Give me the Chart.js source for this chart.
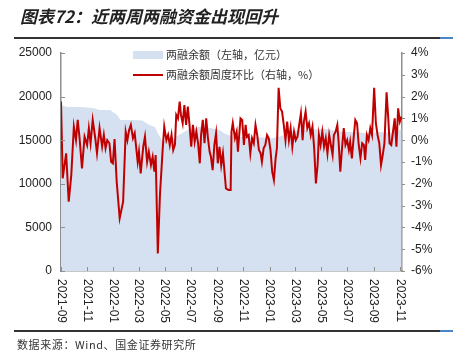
<!DOCTYPE html>
<html>
<head>
<meta charset="utf-8">
<script src="https://cdn.jsdelivr.net/npm/chart.js@4.4.0/dist/chart.umd.min.js"></script>
<style>
  html, body { margin: 0; padding: 0; background: #fff; }
  #wrap { position: relative; width: 453px; height: 363px; overflow: hidden; }
  #chart { position: absolute; left: 0; top: 0; }
  #title { position: absolute; left: 20px; top: 3px; font: italic bold 17px "Noto Sans CJK SC", sans-serif; color: #222; white-space: nowrap; }
  .rule { position: absolute; left: 14px; width: 426px; height: 2px; background: #333; }
  .rule i { position: absolute; left: 426px; top: 0; width: 13px; height: 2px; background: #4a86c5; }
  #source { position: absolute; left: 17px; top: 336px; font: 11px "Noto Sans CJK SC", sans-serif; color: #333; letter-spacing: 0.6px; white-space: nowrap; }
</style>
</head>
<body>
<div id="wrap">
  <canvas id="chart" width="453" height="363"></canvas>
  <div id="title">图表72：近两周两融资金出现回升</div>
  <div class="rule" style="top:37px"><i></i></div>
  <div class="rule" style="top:330px"><i></i></div>
  <div id="source">数据来源：Wind、国金证券研究所</div>
</div>
<script>
// tick labels on the x axis (every two months)
const tickLabels = ['2021-09', '2021-11', '2022-01', '2022-03', '2022-05', '2022-07', '2022-09',
  '2022-11', '2023-01', '2023-03', '2023-05', '2023-07', '2023-09', '2023-11'];

// 两融余额 (left axis, 亿元)
const balanceDates = ['2021-09-01', '2021-09-15', '2021-10-15', '2021-11-15', '2021-12-01', '2021-12-25',
  '2022-01-10', '2022-01-18', '2022-02-15', '2022-03-10', '2022-03-25', '2022-04-08', '2022-04-15',
  '2022-04-25', '2022-05-10', '2022-05-25', '2022-06-10', '2022-06-25', '2022-07-20', '2022-08-15',
  '2022-09-05', '2022-09-20', '2022-10-10', '2022-11-15', '2022-12-15', '2023-01-05', '2023-01-30',
  '2023-02-15', '2023-03-01', '2023-04-01', '2023-05-10', '2023-06-13', '2023-07-18', '2023-08-22',
  '2023-09-14', '2023-10-08', '2023-10-25', '2023-11-05'];
const balanceValues = [19050, 18800, 18800, 18700, 18460, 18460,
  17900, 17320, 17320, 17250, 16770, 16500, 15800,
  15000, 14950, 15300, 15800, 16200, 16500, 16400,
  16200, 15700, 15400, 15400, 15300, 15200, 15500,
  15900, 16100, 16200, 16300, 16000, 15900, 15800,
  15950, 15850, 16000, 16300];

// 两融余额周度环比 (right axis, %)
const ratioDates = [
  '2021-09-01', '2021-09-05', '2021-09-13', '2021-09-19', '2021-09-25', '2021-10-01', '2021-10-06', '2021-10-10',
  '2021-10-14', '2021-10-20', '2021-10-26', '2021-11-01', '2021-11-05', '2021-11-09', '2021-11-14', '2021-11-20',
  '2021-11-24', '2021-11-30', '2021-12-06', '2021-12-10', '2021-12-14', '2021-12-18', '2021-12-23', '2021-12-27',
  '2021-12-31', '2022-01-04', '2022-01-09', '2022-01-16', '2022-01-24', '2022-01-30', '2022-02-03', '2022-02-07',
  '2022-02-11', '2022-02-16', '2022-02-20', '2022-02-27', '2022-03-02', '2022-03-06', '2022-03-12', '2022-03-16',
  '2022-03-21', '2022-03-25', '2022-03-30', '2022-04-03', '2022-04-07', '2022-04-10', '2022-04-13', '2022-04-15',
  '2022-04-20', '2022-04-26', '2022-04-30', '2022-05-05', '2022-05-09', '2022-05-13', '2022-05-17', '2022-05-21',
  '2022-05-25', '2022-05-28', '2022-06-01', '2022-06-05', '2022-06-08', '2022-06-12', '2022-06-16', '2022-06-20',
  '2022-06-24', '2022-06-28', '2022-07-02', '2022-07-06', '2022-07-10', '2022-07-14', '2022-07-18', '2022-07-22',
  '2022-07-25', '2022-07-29', '2022-08-02', '2022-08-06', '2022-08-10', '2022-08-14', '2022-08-17', '2022-08-21',
  '2022-08-25', '2022-08-29', '2022-09-02', '2022-09-06', '2022-09-10', '2022-09-14', '2022-09-18', '2022-09-21',
  '2022-09-27', '2022-10-02', '2022-10-04', '2022-10-07', '2022-10-12', '2022-10-16', '2022-10-19', '2022-10-25',
  '2022-10-29', '2022-11-02', '2022-11-06', '2022-11-09', '2022-11-13', '2022-11-17', '2022-11-21', '2022-11-25',
  '2022-11-29', '2022-12-03', '2022-12-07', '2022-12-11', '2022-12-14', '2022-12-18', '2022-12-22', '2022-12-26',
  '2022-12-30', '2023-01-03', '2023-01-07', '2023-01-11', '2023-01-15', '2023-01-18', '2023-01-22', '2023-01-26',
  '2023-01-30', '2023-02-03', '2023-02-07', '2023-02-11', '2023-02-15', '2023-02-19', '2023-02-23', '2023-02-27',
  '2023-03-03', '2023-03-07', '2023-03-11', '2023-03-15', '2023-03-19', '2023-03-22', '2023-03-26', '2023-03-30',
  '2023-04-03', '2023-04-07', '2023-04-11', '2023-04-15', '2023-04-19', '2023-04-23', '2023-04-26', '2023-04-30',
  '2023-05-04', '2023-05-08', '2023-05-12', '2023-05-16', '2023-05-20', '2023-05-24', '2023-05-28', '2023-05-31',
  '2023-06-04', '2023-06-08', '2023-06-11', '2023-06-15', '2023-06-19', '2023-06-23', '2023-06-27', '2023-07-01',
  '2023-07-05', '2023-07-08', '2023-07-12', '2023-07-16', '2023-07-20', '2023-07-24', '2023-07-28', '2023-08-01',
  '2023-08-05', '2023-08-09', '2023-08-12', '2023-08-16', '2023-08-20', '2023-08-24', '2023-08-28', '2023-09-02',
  '2023-09-06', '2023-09-10', '2023-09-14', '2023-09-18', '2023-09-22', '2023-09-26', '2023-10-01', '2023-10-05',
  '2023-10-08', '2023-10-12', '2023-10-16', '2023-10-20', '2023-10-24', '2023-10-28', '2023-11-01', '2023-11-05'];
const ratioValues = [
  1.77, -1.75, -0.6, -2.82, -1.6, 0.62, 0.0, 0.93,
  0.16, -1.29, 0.16, -0.22, 0.55, -0.14, 0.93, 0.09,
  -0.6, 0.55, -0.3, 0.24, -0.37, 0.0, -0.14, -0.99,
  -1.06, 0.05, -1.9, -3.58, -2.82, 0.39, 0.0, 0.47,
  0.7, 0.09, 0.32, -0.99, -0.53, -1.52, -0.3, 0.16,
  -0.99, -0.53, -1.14, -0.76, -1.44, -0.68, -3.4, -5.2,
  -2.51, -0.53, 0.62, 0.0, 0.24, -0.22, 0.24, -0.45,
  -0.2, 1.16, 1.0, 1.77, 1.16, 0.78, 1.61, 0.7,
  1.54, 0.7, -0.3, 0.7, -0.07, 0.39, -0.14, -1.06,
  0.24, 0.93, -0.14, 1.0, 0.09, -0.53, -0.76, -1.37,
  -0.22, 0.32, -1.06, -0.3, -1.14, -0.6, -1.52, -2.21,
  -2.28, -2.28, 0.39, 0.78, 0.09, 0.39, -0.53, 1.0,
  0.93, -0.22, 0.7, 0.16, 0.24, -0.6, 0.09, -0.14,
  0.7, 0.24, -0.45, -0.6, -0.99, -0.37, -0.22, 0.24,
  0.09, -0.45, -1.44, -1.83, -0.83, -0.37, 2.4, 1.46,
  1.31, 0.7, 0.0, 0.85, 0.0, 0.55, -0.3, 0.39,
  0.0, 0.16, 0.7, 1.23, 0.0, 0.85, 1.31, 0.55,
  0.78, 0.24, 0.62, -0.37, -1.98, -1.14, 0.24, -0.22,
  0.39, -0.3, 0.09, -0.6, 0.24, -0.22, -0.68, 0.24,
  0.39, 0.7, -0.07, -1.44, -0.37, 0.55, -0.22, 0.0,
  -0.45, -0.07, -0.83, 0.09, 0.93, 0.78, -0.22, -0.83,
  -0.14, -0.22, -0.91, 0.24, 0.0, 0.55, 0.24, 2.4,
  0.78, 0.24, -0.14, -1.14, -0.68, -0.14, 2.2, 1.0,
  -0.14, -0.22, 0.39, 1.0, -0.3, 1.46, 0.85, 1.08];

const toX = d => Date.parse(d);
const pairs = (dates, vals) => dates.map((d, i) => ({ x: toX(d), y: vals[i] }));

const axisColor = '#8f8f8f';
const textColor = '#222';
const numFont = { family: '"Liberation Sans", Arial, sans-serif', size: 12 };

// inward tick marks, rotated date labels and the legend inside the plot
const chartDecor = {
  id: 'chartDecor',
  afterDraw(chart) {
    const { ctx, chartArea: a, scales } = chart;
    ctx.save();
    ctx.strokeStyle = axisColor;
    ctx.lineWidth = 1;
    ctx.beginPath();
    scales.y.ticks.forEach(t => {
      const py = Math.round(scales.y.getPixelForValue(t.value)) + 0.5;
      ctx.moveTo(a.left, py); ctx.lineTo(a.left + 4, py);
    });
    scales.y1.ticks.forEach(t => {
      const py = Math.round(scales.y1.getPixelForValue(t.value)) + 0.5;
      ctx.moveTo(a.right, py); ctx.lineTo(a.right + 3, py);
    });
    scales.x.ticks.forEach(t => {
      const px = Math.round(scales.x.getPixelForValue(t.value)) + 0.5;
      ctx.moveTo(px, a.bottom); ctx.lineTo(px, a.bottom - 4);
    });
    ctx.stroke();

    ctx.fillStyle = textColor;
    ctx.font = '12px "Liberation Sans", Arial, sans-serif';
    ctx.textAlign = 'left';
    ctx.textBaseline = 'middle';
    scales.x.ticks.forEach((t, i) => {
      ctx.save();
      ctx.translate(scales.x.getPixelForValue(t.value), a.bottom + 8);
      ctx.rotate(Math.PI / 2);
      ctx.fillText(tickLabels[i], 0, 0);
      ctx.restore();
    });

    // legend
    const ds = chart.data.datasets;
    const lx = 133, lw = 30;
    ctx.font = '11px "Noto Sans CJK SC", sans-serif';
    ctx.fillStyle = ds[1].backgroundColor;
    ctx.fillRect(lx, 51, lw, 8);
    ctx.fillStyle = '#333';
    ctx.fillText(ds[1].label, lx + lw + 3, 55);
    ctx.strokeStyle = ds[0].borderColor;
    ctx.lineWidth = 2;
    ctx.beginPath();
    ctx.moveTo(lx, 75); ctx.lineTo(lx + lw, 75);
    ctx.stroke();
    ctx.fillText(ds[0].label, lx + lw + 3, 75);
    ctx.restore();
  }
};

new Chart(document.getElementById('chart'), {
  type: 'line',
  data: {
    datasets: [
      {
        label: '两融余额周度环比（右轴，%）',
        data: pairs(ratioDates, ratioValues),
        yAxisID: 'y1',
        borderColor: '#c00000',
        borderWidth: 2,
        pointRadius: 0,
        tension: 0,
        fill: false
      },
      {
        label: '两融余额（左轴，亿元）',
        data: pairs(balanceDates, balanceValues),
        yAxisID: 'y',
        borderWidth: 0,
        borderColor: '#d5e1f0',
        backgroundColor: '#d5e1f0',
        pointRadius: 0,
        tension: 0,
        fill: 'origin'
      }
    ]
  },
  options: {
    responsive: false,
    animation: false,
    layout: { padding: { top: 53, left: 0, right: 0, bottom: 0 } },
    plugins: { legend: { display: false }, tooltip: { enabled: false } },
    scales: {
      x: {
        type: 'linear',
        min: toX('2021-09-01'),
        max: toX('2023-11-06'),
        afterBuildTicks: s => { s.ticks = tickLabels.map(l => ({ value: toX(l + '-01') })); },
        afterFit: s => { s.height = 92; },
        ticks: { display: false },
        grid: { display: false, drawTicks: false },
        border: { display: true, color: axisColor, width: 1.5 }
      },
      y: {
        position: 'left',
        min: 0,
        max: 25000,
        ticks: { stepSize: 5000, color: textColor, font: numFont, padding: 9, callback: v => String(v) },
        afterFit: s => { s.width = 61; },
        grid: { display: false, drawTicks: false },
        border: { display: true, color: axisColor, width: 1.5 }
      },
      y1: {
        position: 'right',
        min: -6,
        max: 4,
        ticks: { stepSize: 1, color: textColor, font: numFont, padding: 9, callback: v => v + '%' },
        afterFit: s => { s.width = 51; },
        grid: { display: false, drawTicks: false },
        border: { display: true, color: axisColor, width: 1.5 }
      }
    }
  },
  plugins: [chartDecor]
});
</script>
</body>
</html>
